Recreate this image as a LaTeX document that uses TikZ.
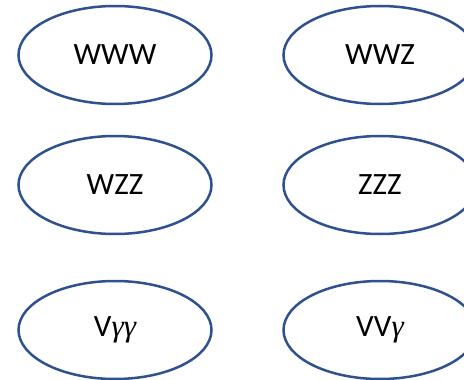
\documentclass[tikz,border=0pt]{standalone}
\usepackage{fontspec}
\setmainfont{Carlito}
\newfontfamily\gfont{Liberation Serif}
\newcommand{\gam}{{\gfont\itshape γ}}
\usetikzlibrary{shapes.geometric}
\definecolor{edgeblue}{RGB}{47,82,143}
\begin{document}
\begin{tikzpicture}[x=1pt,y=-1pt,
  oval/.style={ellipse, draw=edgeblue, line width=2.5pt, fill=white,
    minimum width=193pt, minimum height=98pt, inner sep=0pt,
    font=\fontsize{31}{34}\selectfont}]
\useasboundingbox (0,0) rectangle (464,380);
\clip (0,0) rectangle (464,380);
\node[oval] (www) at (115,55) {WWW};
\node[oval] (wwz) at (380,55) {WWZ};
\node[oval] (wzz) at (115,185) {WZZ};
\node[oval] (zzz) at (380,185) {ZZZ};
\node[oval] (vgg) at (115,330) {V\gam\gam};
\node[oval] (vvg) at (380,330) {VV\gam};
\end{tikzpicture}
\end{document}
